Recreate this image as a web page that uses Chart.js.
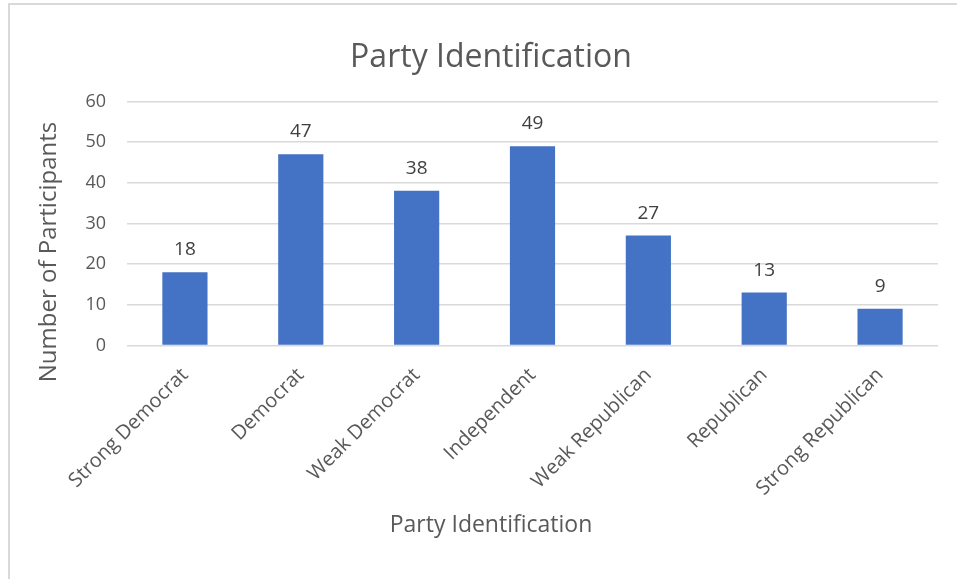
<!DOCTYPE html>
<html>
<head>
<meta charset="utf-8">
<script src="https://cdn.jsdelivr.net/npm/chart.js@4/dist/chart.umd.min.js"></script>
<style>
  html, body { margin: 0; padding: 0; background: #fff; }
  #frame { position: absolute; left: 8px; top: 3px; width: 980px; height: 620px; border: 2px solid #d9d9d9; }
  #wrap { position: absolute; left: 0; top: 0; width: 957px; height: 579px; }
</style>
</head>
<body>
<div id="frame"></div>
<div id="wrap"><canvas id="chart"></canvas></div>
<script>
// chart data
var categories = ["Strong Democrat", "Democrat", "Weak Democrat", "Independent", "Weak Republican", "Republican", "Strong Republican"];
var participants = [18, 47, 38, 49, 27, 13, 9];
var yTicks = [0, 10, 20, 30, 40, 50, 60];

var textColor = "#595959";
var fontFamily = "'Open Sans', sans-serif";

// value labels above the bars + y axis title (centred like the original, not on the plot)
var barLabels = {
    id: "barLabels",
    afterDatasetsDraw: function(chart)
    {
        var ctx = chart.ctx;
        var meta = chart.getDatasetMeta(0);
        ctx.save();
        ctx.font = "19px " + fontFamily;
        ctx.fillStyle = "#404040";
        ctx.textAlign = "center";
        ctx.textBaseline = "alphabetic";
        meta.data.forEach(function(bar, i)
        {
            ctx.fillText(String(participants[i]), bar.x, bar.y - 17);
        });

        ctx.translate(49, 252);
        ctx.rotate(-Math.PI / 2);
        ctx.font = "24px " + fontFamily;
        ctx.fillStyle = textColor;
        ctx.textBaseline = "middle";
        ctx.fillText("Number of Participants", 0, 0);
        ctx.restore();
    }
};

new Chart(document.getElementById("chart"), {
    type: "bar",
    data: {
        labels: categories,
        datasets: [{
            data: participants,
            backgroundColor: "#4472C4",
            borderWidth: 0,
            categoryPercentage: 1,
            barPercentage: 0.39
        }]
    },
    options: {
        responsive: true,
        maintainAspectRatio: false,
        animation: false,
        layout: { padding: { left: 44, right: 19, top: 0, bottom: 0 } },
        plugins: {
            legend: { display: false },
            tooltip: { enabled: false },
            title: {
                display: true,
                text: "Party Identification",
                color: textColor,
                font: { family: fontFamily, size: 32, weight: "normal" },
                padding: { top: 39, bottom: 24 }
            },
            subtitle: {
                display: true,
                position: "bottom",
                text: "Party Identification",
                color: textColor,
                font: { family: fontFamily, size: 23, weight: "normal" },
                padding: { top: 0, bottom: 40 }
            }
        },
        scales: {
            x: {
                grid: { display: false },
                border: { display: false },
                ticks: {
                    color: textColor,
                    font: { family: fontFamily, size: 20 },
                    minRotation: 45,
                    maxRotation: 45,
                    padding: 10
                },
                afterFit: function(scale) { scale.height = 166; }
            },
            y: {
                min: 0,
                max: 60,
                afterBuildTicks: function(scale)
                {
                    scale.ticks = yTicks.map(function(v) { return { value: v }; });
                },
                grid: { color: "#d9d9d9", lineWidth: 1.5, drawTicks: false },
                border: { display: false },
                ticks: {
                    color: textColor,
                    font: { family: fontFamily, size: 18 },
                    padding: 21
                },
                afterFit: function(scale) { scale.width = 83; }
            }
        }
    },
    plugins: [barLabels]
});
</script>
</body>
</html>
